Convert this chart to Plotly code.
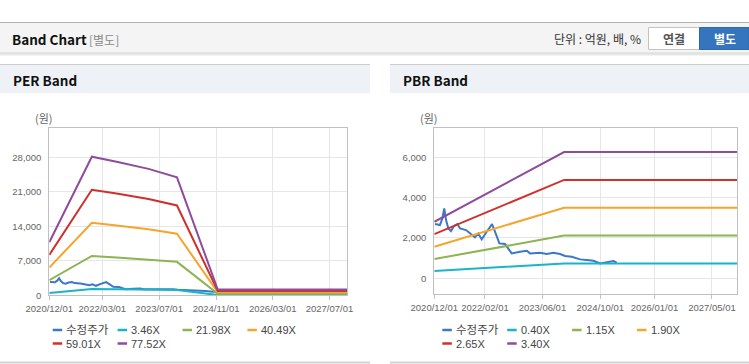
import plotly.graph_objects as go

W, H = 749, 364

# ---------------- data ----------------
price_dates = ["2020-12-07", "2021-01-18", "2021-02-07", "2021-02-23", "2021-03-10", "2021-03-29",
               "2021-04-21", "2021-05-16", "2021-06-13", "2021-07-06", "2021-08-26", "2021-10-12",
               "2021-11-09", "2021-12-07", "2022-01-05", "2022-02-16", "2022-04-02", "2022-04-27",
               "2022-06-03", "2022-07-21", "2022-09-15", "2022-11-24", "2023-01-20", "2023-02-17",
               "2023-05-12", "2023-07-08", "2023-09-01", "2023-10-28", "2023-12-09", "2024-02-04",
               "2024-04-14", "2024-06-09", "2024-08-04", "2024-09-29", "2024-11-25", "2025-01-20",
               "2025-02-17"]
price_vals = [2688, 2639, 2969, 3465, 2886, 2474, 2342, 2590, 2688, 2474, 2392, 2144,
              2029, 2226, 1929, 2309, 2688, 2309, 1731, 1698, 1236, 1319, 1368, 1236,
              1269, 1203, 1269, 1203, 1104, 1071, 939, 906, 873, 741, 790, 856, 774]

per_dates = ["2020-12-01", "2021-12-01", "2022-07-01", "2023-04-01", "2023-12-01", "2024-11-15", "2027-12-01"]
per_346 = [481, 1256, 1211, 1145, 1069, 52, 52]
per_2198 = [3055, 7980, 7690, 7280, 6790, 330, 330]
per_4049 = [5630, 14700, 14170, 13400, 12510, 607, 607]
per_5901 = [8200, 21420, 20650, 19530, 18230, 885, 885]
per_7752 = [10780, 28140, 27130, 25660, 23950, 1163, 1163]

pbr_dates = ["2020-12-01", "2023-12-01", "2027-12-01"]
pbr_040 = [360, 740, 740]
pbr_115 = [955, 2116, 2116]
pbr_190 = [1565, 3496, 3496]
pbr_265 = [2190, 4876, 4876]
pbr_340 = [2800, 6256, 6256]

per_names = ["수정주가", "3.46X", "21.98X", "40.49X", "59.01X", "77.52X"]
pbr_names = ["수정주가", "0.40X", "1.15X", "1.90X", "2.65X", "3.40X"]
colors = ["#3b78c7", "#1bb3c8", "#8cb452", "#f5a52c", "#cf302c", "#8e4c9d"]

per_tickvals = ["2020-12-01", "2022-03-01", "2023-07-01", "2024-11-01", "2026-03-01", "2027-07-01"]
per_ticktext = ["2020/12/01", "2022/03/01", "2023/07/01", "2024/11/01", "2026/03/01", "2027/07/01"]
pbr_tickvals = ["2020-12-01", "2022-02-01", "2023-06-01", "2024-10-01", "2026-01-01", "2027-05-01"]
pbr_ticktext = ["2020/12/01", "2022/02/01", "2023/06/01", "2024/10/01", "2026/01/01", "2027/05/01"]
x_range = ["2020-12-01", "2027-12-01"]

# ---------------- helpers ----------------
def fx(x):
    return x / W

def fy(y):
    return 1 - y / H

KFONT = "Noto Sans CJK KR"
LFONT = "Liberation Sans, Noto Sans CJK KR"

fig = go.Figure()

per_series = [(price_dates, price_vals), (per_dates, per_346), (per_dates, per_2198),
              (per_dates, per_4049), (per_dates, per_5901), (per_dates, per_7752)]
pbr_series = [(price_dates, price_vals), (pbr_dates, pbr_040), (pbr_dates, pbr_115),
              (pbr_dates, pbr_190), (pbr_dates, pbr_265), (pbr_dates, pbr_340)]

for (d, v), n, c in zip(per_series, per_names, colors):
    fig.add_trace(go.Scatter(x=d, y=v, name=n, mode="lines", line=dict(color=c, width=2),
                             xaxis="x", yaxis="y", showlegend=False, hoverinfo="skip"))
for (d, v), n, c in zip(pbr_series, pbr_names, colors):
    fig.add_trace(go.Scatter(x=d, y=v, name=n, mode="lines", line=dict(color=c, width=2),
                             xaxis="x2", yaxis="y2", showlegend=False, hoverinfo="skip"))

grid = "#e6e6e6"
frame = "#c0c0c0"
tickfont = dict(family=LFONT, size=9.5, color="#666666")

def xax(domain, tv, tt):
    return dict(domain=domain, type="date", range=x_range, tickvals=tv, ticktext=tt,
                showgrid=True, gridcolor=grid, gridwidth=1, showline=True, linecolor=frame,
                mirror=True, ticks="outside", ticklen=4, tickcolor=frame, tickfont=tickfont,
                fixedrange=True, zeroline=False, automargin=False, tickangle=0)

def yax(domain, rng, dtick):
    return dict(domain=domain, range=rng, dtick=dtick, tick0=0, tickformat=",d",
                showgrid=True, gridcolor=grid, gridwidth=1, showline=True, linecolor=frame,
                mirror=True, ticks="", tickfont=tickfont, zeroline=False, fixedrange=True,
                ticklabelstandoff=5, automargin=False)

fig.update_layout(
    template="none",
    width=W, height=H, margin=dict(l=0, r=0, t=0, b=0, pad=0),
    paper_bgcolor="white", plot_bgcolor="white", showlegend=False,
    xaxis=dict(anchor="y", **xax([fx(49.3), fx(347.3)], per_tickvals, per_ticktext)),
    yaxis=dict(anchor="x", **yax([fy(295.3), fy(128.3)], [0, 33900], 7000)),
    xaxis2=dict(anchor="y2", **xax([fx(434.3), fx(737.3)], pbr_tickvals, pbr_ticktext)),
    yaxis2=dict(anchor="x2", **yax([fy(294.3), fy(128.3)], [-790, 7430], 2000)),
)

shapes = []
annos = []

def rect(x0, y0, x1, y1, fill, line=None, lw=0):
    shapes.append(dict(type="rect", xref="paper", yref="paper", x0=fx(x0), x1=fx(x1),
                       y0=fy(y1), y1=fy(y0), fillcolor=fill,
                       line=dict(color=line or fill, width=lw), layer="below"))

def hline(x0, x1, y, color, w=1):
    shapes.append(dict(type="line", xref="paper", yref="paper", x0=fx(x0), x1=fx(x1),
                       y0=fy(y), y1=fy(y), line=dict(color=color, width=w)))

def text(x, y, t, size, color, family=KFONT, xanchor="left", bold=False):
    if bold:
        t = "<b>" + t + "</b>"
    annos.append(dict(xref="paper", yref="paper", x=fx(x), y=fy(y), text=t, showarrow=False,
                      xanchor=xanchor, yanchor="middle", borderpad=0,
                      font=dict(size=size, color=color, family=family)))

# top header bar
rect(0, 22.5, 749, 53, "#f4f4f4")
hline(0, 749, 22.5, "#b3b3b3")
hline(0, 749, 53.2, "#c9c9c9")
hline(0, 749, 54.6, "#e8e8e8", 2)
text(11, 39, "Band Chart", 13.5, "#111111", bold=True)
text(88, 39.5, "[별도]", 12, "#8a8a8a")
text(642, 39, "단위 : 억원, 배, %", 12, "#333333", xanchor="right")
rect(648.5, 27.5, 699.5, 49.5, "#ffffff", "#c3c3c3", 1)
rect(699.5, 27.5, 749, 49.5, "#3575bd", "#2f6aad", 1)
text(674, 38.5, "연결", 12, "#555555", xanchor="center", bold=True)
text(724.5, 38.5, "별도", 12, "#ffffff", xanchor="center", bold=True)

# panel headers
for x0, x1, title in [(0, 370, "PER Band"), (390, 749, "PBR Band")]:
    rect(x0, 64.5, x1, 93, "#eef2f7")
    hline(x0, x1, 64.5, "#cdcdcd")
    hline(x0, x1, 362.5, "#d2d2d2", 2)
    text(x0 + 11.5, 79.5, title, 13.5, "#111111", bold=True)

# unit labels
text(44, 118, "(원)", 11, "#666666", xanchor="center")
text(428.5, 118, "(원)", 11, "#666666", xanchor="center")

# custom legends
for base, names in [(52.7, per_names), (442.3, pbr_names)]:
    for i, (n, c) in enumerate(zip(names, colors)):
        row, col = divmod(i, 4)
        x0 = base + col * 64.9
        y = 330 if row == 0 else 343.5
        shapes.append(dict(type="line", xref="paper", yref="paper", x0=fx(x0), x1=fx(x0 + 9.5),
                           y0=fy(y), y1=fy(y), line=dict(color=c, width=2.5)))
        text(x0 + 12.5, y, n, 11.5 if i == 0 else 11, "#444444", family=LFONT)

fig.update_layout(shapes=shapes, annotations=annos)
fig.write_html("out.html", config={"displayModeBar": False},
               post_script="document.body.style.margin='0';document.body.style.padding='0';")
